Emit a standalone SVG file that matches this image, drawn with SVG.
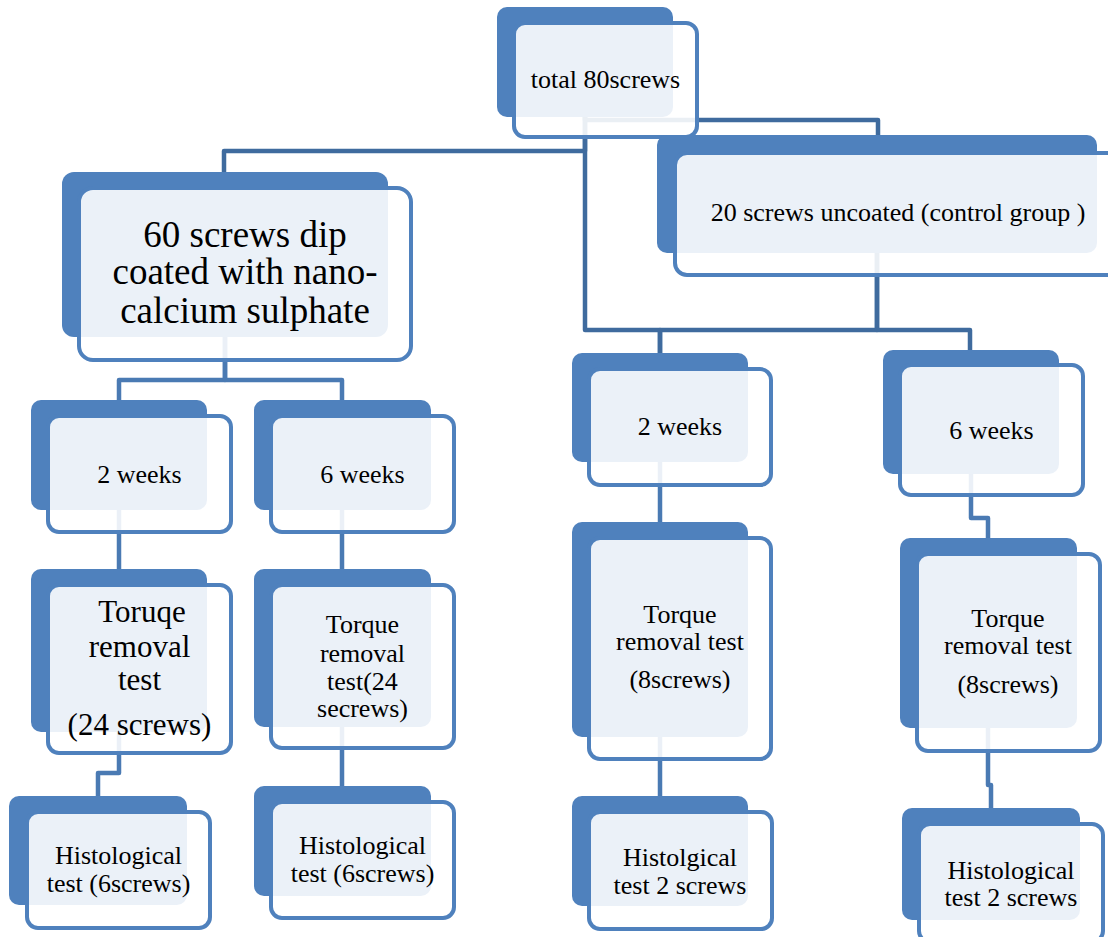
<svg xmlns="http://www.w3.org/2000/svg" width="1108" height="937" viewBox="0 0 1108 937">
<style>
.bk{fill:#4f81bd}
.fr{fill:#ffffff;fill-opacity:0.89;stroke:#4f81bd;stroke-width:4}
.c1{fill:none;stroke:#3f6b9e;stroke-width:4.5;stroke-linejoin:round}
.c2{fill:none;stroke:#4a7ab3;stroke-width:4.5;stroke-linejoin:round}
text{font-family:"Liberation Serif","Times New Roman",serif;fill:#000;text-anchor:middle}
.t26{font-size:26px}
.t31{font-size:31px}
.t37{font-size:37px}
</style>
<rect width="1108" height="937" fill="#ffffff"/>
<g id="connectors">
<path class="c1" d="M585,62 V151 H224 V180"/>
<path class="c1" d="M585,62 V330 H660 V360"/>
<path class="c1" d="M585,62 V120 H878 V140"/>
<path class="c1" d="M877,200 V330 H660 V360"/>
<path class="c1" d="M877,200 V330 H970 V360"/>
<path class="c2" d="M225,250 V380 H119 V405"/>
<path class="c2" d="M225,250 V380 H342 V405"/>
<path class="c2" d="M119,455 V575"/>
<path class="c2" d="M342,455 V575"/>
<path class="c2" d="M119,650 V773 H98 V805"/>
<path class="c2" d="M342,650 V792"/>
<path class="c2" d="M660,410 V528"/>
<path class="c2" d="M660,630 V802"/>
<path class="c2" d="M971,410 V518 H988 V545"/>
<path class="c2" d="M988,630 V785 H991 V815"/>
</g>
<g id="n-total">
<rect class="bk" x="497" y="7" width="176" height="110" rx="10"/>
<rect class="fr" x="514" y="23" width="183" height="114" rx="11"/>
<text class="t26" x="605.5" y="88">total 80screws</text>
</g>
<g id="n-coated">
<rect class="bk" x="62" y="172" width="326" height="165" rx="12"/>
<rect class="fr" x="79" y="188" width="332" height="172" rx="14"/>
<text class="t37" x="245" y="247">60 screws dip</text>
<text class="t37" x="245" y="284">coated with nano-</text>
<text class="t37" x="245" y="323">calcium sulphate</text>
</g>
<g id="n-control">
<rect class="bk" x="657" y="135" width="440" height="118" rx="10"/>
<rect class="fr" x="675" y="153" width="447" height="122" rx="12"/>
<text class="t26" x="898" y="221">20 screws uncoated (control group )</text>
</g>
<g id="n-l2w">
<rect class="bk" x="31" y="400" width="176" height="110" rx="10"/>
<rect class="fr" x="48" y="416" width="183" height="116" rx="11"/>
<text class="t26" x="139.5" y="483">2 weeks</text>
</g>
<g id="n-l6w">
<rect class="bk" x="254" y="400" width="177" height="110" rx="10"/>
<rect class="fr" x="271" y="416" width="183" height="116" rx="11"/>
<text class="t26" x="362.5" y="483">6 weeks</text>
</g>
<g id="n-l2t">
<rect class="bk" x="31" y="569" width="176" height="163" rx="10"/>
<rect class="fr" x="48" y="585" width="183" height="168" rx="11"/>
<text class="t31" x="142" y="622">Toruqe</text>
<text class="t31" x="139.5" y="657">removal</text>
<text class="t31" x="139.5" y="690">test</text>
<text class="t31" x="139.5" y="735">(24 screws)</text>
</g>
<g id="n-l6t">
<rect class="bk" x="254" y="569" width="177" height="158" rx="10"/>
<rect class="fr" x="271" y="585" width="183" height="163" rx="11"/>
<text class="t26" x="362.5" y="633">Torque</text>
<text class="t26" x="362.5" y="662">removal</text>
<text class="t26" x="362.5" y="690">test(24</text>
<text class="t26" x="362.5" y="717">secrews)</text>
</g>
<g id="n-l2h">
<rect class="bk" x="9" y="796" width="178" height="109" rx="10"/>
<rect class="fr" x="27" y="812" width="183" height="116" rx="11"/>
<text class="t26" x="118.5" y="864">Histological</text>
<text class="t26" x="118.5" y="892">test (6screws)</text>
</g>
<g id="n-l6h">
<rect class="bk" x="254" y="786" width="177" height="110" rx="10"/>
<rect class="fr" x="271" y="802" width="183" height="116" rx="11"/>
<text class="t26" x="362.5" y="854">Histological</text>
<text class="t26" x="362.5" y="882">test (6screws)</text>
</g>
<g id="n-r2w">
<rect class="bk" x="572" y="353" width="176" height="109" rx="10"/>
<rect class="fr" x="589" y="369" width="182" height="116" rx="11"/>
<text class="t26" x="680" y="435">2 weeks</text>
</g>
<g id="n-r2t">
<rect class="bk" x="572" y="522" width="176" height="215" rx="10"/>
<rect class="fr" x="589" y="538" width="182" height="221" rx="11"/>
<text class="t26" x="680" y="623">Torque</text>
<text class="t26" x="680" y="650">removal test</text>
<text class="t26" x="680" y="688">(8screws)</text>
</g>
<g id="n-r2h">
<rect class="bk" x="572" y="796" width="176" height="110" rx="10"/>
<rect class="fr" x="589" y="812" width="183" height="117" rx="11"/>
<text class="t26" x="680" y="866">Histolgical</text>
<text class="t26" x="680" y="894">test 2 screws</text>
</g>
<g id="n-r6w">
<rect class="bk" x="883" y="350" width="176" height="124" rx="10"/>
<rect class="fr" x="900" y="365" width="183" height="130" rx="11"/>
<text class="t26" x="991.5" y="439">6 weeks</text>
</g>
<g id="n-r6t">
<rect class="bk" x="900" y="538" width="177" height="190" rx="10"/>
<rect class="fr" x="917" y="554" width="183" height="197" rx="11"/>
<text class="t26" x="1008" y="627">Torque</text>
<text class="t26" x="1008" y="654">removal test</text>
<text class="t26" x="1008" y="693">(8screws)</text>
</g>
<g id="n-r6h">
<rect class="bk" x="902" y="808" width="178" height="112" rx="10"/>
<rect class="fr" x="919" y="824" width="184" height="118" rx="11"/>
<text class="t26" x="1011" y="879">Histological</text>
<text class="t26" x="1011" y="906">test 2 screws</text>
</g>
</svg>
